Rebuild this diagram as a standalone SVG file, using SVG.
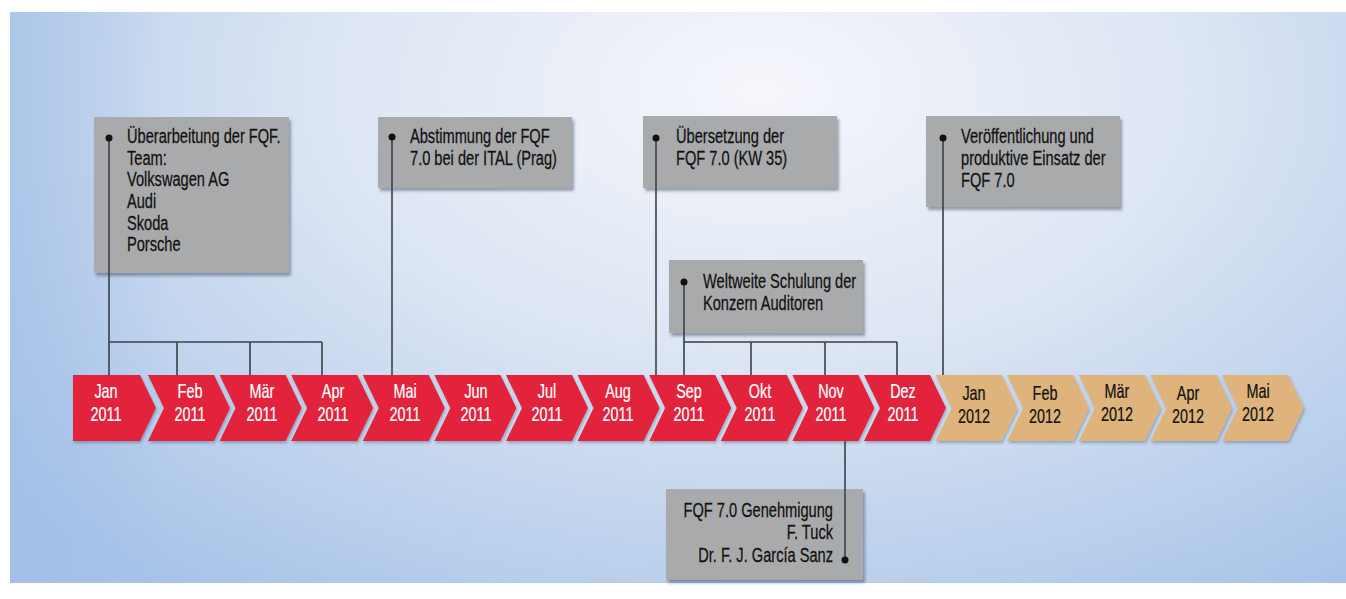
<svg xmlns="http://www.w3.org/2000/svg" width="1346" height="599" viewBox="0 0 1346 599">
  <defs>
    <radialGradient id="bg" cx="760" cy="90" r="1000" gradientUnits="userSpaceOnUse" gradientTransform="translate(760 90) scale(1 0.62) translate(-760 -90)">
      <stop offset="0" stop-color="#f4f6fb"/>
      <stop offset="0.4" stop-color="#dfe7f4"/>
      <stop offset="0.8" stop-color="#b9cfec"/>
      <stop offset="1" stop-color="#a6c2e8"/>
    </radialGradient>
    <linearGradient id="bgl" x1="0" y1="0" x2="1" y2="0">
      <stop offset="0" stop-color="#9fbde6" stop-opacity="0.55"/>
      <stop offset="0.12" stop-color="#9fbde6" stop-opacity="0"/>
      <stop offset="1" stop-color="#9fbde6" stop-opacity="0"/>
    </linearGradient>
    <filter id="sh" x="-10%" y="-10%" width="130%" height="140%">
      <feDropShadow dx="2" dy="3" stdDeviation="1.5" flood-color="#2a3a55" flood-opacity="0.45"/>
    </filter>
    <filter id="shc" x="-10%" y="-10%" width="130%" height="140%">
      <feDropShadow dx="1" dy="2" stdDeviation="1.5" flood-color="#2a3a55" flood-opacity="0.35"/>
    </filter>
  </defs>
  <style>
    .box { fill: #a9aaac; filter: url(#sh); }
    .t { font-family: "Liberation Sans", Arial, sans-serif; font-size: 19.5px; fill: #111; stroke: #111; stroke-width: 0.25; }
    .r { text-anchor: end; }
    .m { font-family: "Liberation Sans", Arial, sans-serif; font-size: 20px; text-anchor: middle; stroke-width: 0.25; }
    .w { fill: #ffffff; stroke: #ffffff; }
    .k { fill: #111111; stroke: #111111; }
    .red { fill: #e3203b; filter: url(#shc); }
    .tan { fill: #dfb47c; filter: url(#shc); }
    .ln { stroke: #3b4048; stroke-width: 1.6; fill: none; }
    .dot { fill: #111; }
  </style>

  <rect x="0" y="0" width="1346" height="599" fill="#ffffff"/>
  <rect x="10" y="12" width="1336" height="571" fill="url(#bg)"/>
  <rect x="10" y="12" width="1336" height="571" fill="url(#bgl)"/>

  <!-- boxes -->
  <g id="box-ueberarbeitung">
    <rect class="box" x="94" y="117" width="195" height="156"/>
    <text class="t" transform="translate(127 143) scale(0.75 1)">Überarbeitung der FQF.</text>
    <text class="t" transform="translate(127 165) scale(0.75 1)">Team:</text>
    <text class="t" transform="translate(127 186) scale(0.75 1)">Volkswagen AG</text>
    <text class="t" transform="translate(127 208) scale(0.75 1)">Audi</text>
    <text class="t" transform="translate(127 230) scale(0.75 1)">Skoda</text>
    <text class="t" transform="translate(127 251) scale(0.75 1)">Porsche</text>
  </g>
  <g id="box-abstimmung">
    <rect class="box" x="378" y="117" width="194" height="71"/>
    <text class="t" transform="translate(410 143) scale(0.75 1)">Abstimmung der FQF</text>
    <text class="t" transform="translate(410 165) scale(0.75 1)">7.0 bei der ITAL (Prag)</text>
  </g>
  <g id="box-uebersetzung">
    <rect class="box" x="643" y="116" width="194" height="72"/>
    <text class="t" transform="translate(676 143) scale(0.75 1)">Übersetzung der</text>
    <text class="t" transform="translate(676 165) scale(0.75 1)">FQF 7.0 (KW 35)</text>
  </g>
  <g id="box-schulung">
    <rect class="box" x="669" y="260" width="194" height="73"/>
    <text class="t" transform="translate(703 288) scale(0.75 1)">Weltweite Schulung der</text>
    <text class="t" transform="translate(703 310) scale(0.75 1)">Konzern Auditoren</text>
  </g>
  <g id="box-veroeffentlichung">
    <rect class="box" x="926" y="116" width="194" height="91"/>
    <text class="t" transform="translate(961 143) scale(0.75 1)">Veröffentlichung und</text>
    <text class="t" transform="translate(961 165) scale(0.75 1)">produktive Einsatz der</text>
    <text class="t" transform="translate(961 187) scale(0.75 1)">FQF 7.0</text>
  </g>
  <g id="box-genehmigung">
    <rect class="box" x="666" y="489" width="197" height="91"/>
    <text class="t r" transform="translate(833 517) scale(0.75 1)">FQF 7.0 Genehmigung</text>
    <text class="t r" transform="translate(833 539) scale(0.75 1)">F. Tuck</text>
    <text class="t r" transform="translate(833 562) scale(0.75 1)">Dr. F. J. García Sanz</text>
  </g>

  <!-- connectors -->
  <g id="connectors">
    <path class="ln" d="M109 138 V375 M109 342 H322 M177 342 V375 M250 342 V375 M322 342 V375"/>
    <path class="ln" d="M392 137 V375"/>
    <path class="ln" d="M656 138 V375"/>
    <path class="ln" d="M684 282 V375 M684 342 H897 M751 342 V375 M825 342 V375 M897 342 V375"/>
    <path class="ln" d="M943 138 V375"/>
    <path class="ln" d="M845 441 V560"/>
    <circle class="dot" cx="109" cy="138" r="3.5"/>
    <circle class="dot" cx="392" cy="137" r="3.5"/>
    <circle class="dot" cx="656" cy="138" r="3.5"/>
    <circle class="dot" cx="684" cy="282" r="3.5"/>
    <circle class="dot" cx="943" cy="138" r="3.5"/>
    <circle class="dot" cx="845" cy="560" r="3.5"/>
  </g>

  <!-- timeline chevrons -->
  <g id="m-2011-01">
    <polygon class="red" points="73,375 140,375 156,408 140,441 73,441"/>
    <text class="m w" transform="translate(106 398) scale(0.72 1)">Jan</text><text class="m w" transform="translate(106 421) scale(0.72 1)">2011</text>
  </g>
  <g id="m-2011-02">
    <polygon class="red" points="148,375 214,375 230,408 214,441 148,441 164,408"/>
    <text class="m w" transform="translate(190 398) scale(0.72 1)">Feb</text><text class="m w" transform="translate(190 421) scale(0.72 1)">2011</text>
  </g>
  <g id="m-2011-03">
    <polygon class="red" points="219.6,375 285.6,375 301.6,408 285.6,441 219.6,441 235.6,408"/>
    <text class="m w" transform="translate(262 398) scale(0.72 1)">Mär</text><text class="m w" transform="translate(262 421) scale(0.72 1)">2011</text>
  </g>
  <g id="m-2011-04">
    <polygon class="red" points="291.2,375 357.2,375 373.2,408 357.2,441 291.2,441 307.2,408"/>
    <text class="m w" transform="translate(333 398) scale(0.72 1)">Apr</text><text class="m w" transform="translate(333 421) scale(0.72 1)">2011</text>
  </g>
  <g id="m-2011-05">
    <polygon class="red" points="362.8,375 428.8,375 444.8,408 428.8,441 362.8,441 378.8,408"/>
    <text class="m w" transform="translate(405 398) scale(0.72 1)">Mai</text><text class="m w" transform="translate(405 421) scale(0.72 1)">2011</text>
  </g>
  <g id="m-2011-06">
    <polygon class="red" points="434.4,375 500.4,375 516.4,408 500.4,441 434.4,441 450.4,408"/>
    <text class="m w" transform="translate(476 398) scale(0.72 1)">Jun</text><text class="m w" transform="translate(476 421) scale(0.72 1)">2011</text>
  </g>
  <g id="m-2011-07">
    <polygon class="red" points="506,375 572,375 588,408 572,441 506,441 522,408"/>
    <text class="m w" transform="translate(547 398) scale(0.72 1)">Jul</text><text class="m w" transform="translate(547 421) scale(0.72 1)">2011</text>
  </g>
  <g id="m-2011-08">
    <polygon class="red" points="577.6,375 643.6,375 659.6,408 643.6,441 577.6,441 593.6,408"/>
    <text class="m w" transform="translate(618 398) scale(0.72 1)">Aug</text><text class="m w" transform="translate(618 421) scale(0.72 1)">2011</text>
  </g>
  <g id="m-2011-09">
    <polygon class="red" points="649.2,375 715.2,375 731.2,408 715.2,441 649.2,441 665.2,408"/>
    <text class="m w" transform="translate(689 398) scale(0.72 1)">Sep</text><text class="m w" transform="translate(689 421) scale(0.72 1)">2011</text>
  </g>
  <g id="m-2011-10">
    <polygon class="red" points="720.8,375 786.8,375 802.8,408 786.8,441 720.8,441 736.8,408"/>
    <text class="m w" transform="translate(760 398) scale(0.72 1)">Okt</text><text class="m w" transform="translate(760 421) scale(0.72 1)">2011</text>
  </g>
  <g id="m-2011-11">
    <polygon class="red" points="792.4,375 858.4,375 874.4,408 858.4,441 792.4,441 808.4,408"/>
    <text class="m w" transform="translate(831 398) scale(0.72 1)">Nov</text><text class="m w" transform="translate(831 421) scale(0.72 1)">2011</text>
  </g>
  <g id="m-2011-12">
    <polygon class="red" points="864,375 930,375 946,408 930,441 864,441 880,408"/>
    <text class="m w" transform="translate(903 398) scale(0.72 1)">Dez</text><text class="m w" transform="translate(903 421) scale(0.72 1)">2011</text>
  </g>
  <g id="m-2012-01">
    <polygon class="tan" points="935.6,375 1001.6,375 1017.6,408 1001.6,441 935.6,441 951.6,408"/>
    <text class="m k" transform="translate(974 400) scale(0.72 1)">Jan</text><text class="m k" transform="translate(974 423) scale(0.72 1)">2012</text>
  </g>
  <g id="m-2012-02">
    <polygon class="tan" points="1007.2,375 1073.2,375 1089.2,408 1073.2,441 1007.2,441 1023.2,408"/>
    <text class="m k" transform="translate(1045 400) scale(0.72 1)">Feb</text><text class="m k" transform="translate(1045 423) scale(0.72 1)">2012</text>
  </g>
  <g id="m-2012-03">
    <polygon class="tan" points="1078.8,375 1144.8,375 1160.8,408 1144.8,441 1078.8,441 1094.8,408"/>
    <text class="m k" transform="translate(1117 398) scale(0.72 1)">Mär</text><text class="m k" transform="translate(1117 421) scale(0.72 1)">2012</text>
  </g>
  <g id="m-2012-04">
    <polygon class="tan" points="1150.4,375 1216.4,375 1232.4,408 1216.4,441 1150.4,441 1166.4,408"/>
    <text class="m k" transform="translate(1188 400) scale(0.72 1)">Apr</text><text class="m k" transform="translate(1188 423) scale(0.72 1)">2012</text>
  </g>
  <g id="m-2012-05">
    <polygon class="tan" points="1222,375 1288,375 1304,408 1288,441 1222,441 1238,408"/>
    <text class="m k" transform="translate(1258 398) scale(0.72 1)">Mai</text><text class="m k" transform="translate(1258 421) scale(0.72 1)">2012</text>
  </g>
</svg>
